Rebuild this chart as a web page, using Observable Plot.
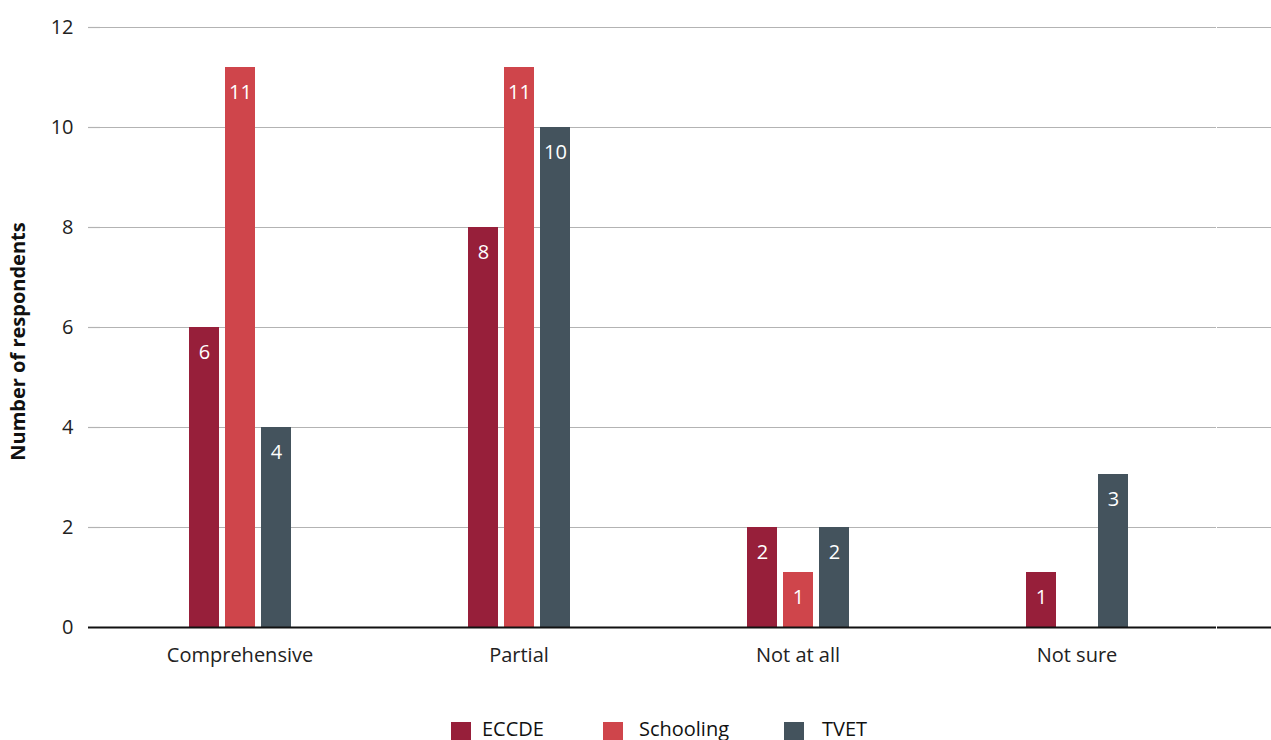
<!DOCTYPE html>
<html>
<head>
<meta charset="utf-8">
<script src="https://cdn.jsdelivr.net/npm/d3@7"></script>
<script src="https://cdn.jsdelivr.net/npm/@observablehq/plot@0.6"></script>
<style>
  html, body { margin: 0; padding: 0; background: #fff; }
  body { width: 1271px; height: 740px; overflow: hidden; font-family: "Open Sans", sans-serif; }
  #legend { display: flex; justify-content: flex-start; align-items: flex-start; margin-top: 32px; padding-left: 451px; font-size: 20px; color: #111; line-height: 20px; }
  .item { display: flex; align-items: flex-start; }
  .sw { width: 20px; height: 20px; display: inline-block; }
  .lt { margin-top: -3px; }
</style>
</head>
<body>
<div id="chart"></div>
<div id="legend"></div>
<script>
const categories = ["Comprehensive", "Partial", "Not at all", "Not sure"];
const series = ["ECCDE", "Schooling", "TVET"];
const eccde = [6, 8, 2, 1.1];
const schooling = [11.2, 11.2, 1.1, 0];
const tvet = [4, 10, 2, 3.06];
const colors = ["#971f3a", "#cf454b", "#44535d"];
const yTicks = [0, 2, 4, 6, 8, 10, 12];
const gridTicks = yTicks.filter(d => d > 0);

const seriesValues = [eccde, schooling, tvet];
const data = [];
categories.forEach((c, i) => {
  series.forEach((s, j) => {
    data.push({category: c, series: s, value: seriesValues[j][i]});
  });
});

const gridColor = "#b3b3b3";
const blank = () => "";

const plot = Plot.plot({
  width: 1271,
  height: 690,
  marginLeft: 87,
  marginRight: 0,
  marginTop: 27,
  marginBottom: 63,
  style: {fontFamily: "Open Sans", fontSize: "20px", color: "#222", overflow: "visible"},
  fx: {domain: categories, padding: 0, insetLeft: 12, insetRight: 54, label: null},
  x: {domain: series, paddingInner: 0.17, paddingOuter: 2.46, axis: null},
  y: {domain: [0, 12], ticks: yTicks, axis: null},
  color: {domain: series, range: colors},
  marks: [
    Plot.ruleY(gridTicks, {stroke: gridColor, strokeWidth: 1.2}),
    Plot.axisY({anchor: "left", facetAnchor: "left", ticks: gridTicks, tickSize: 12, tickFormat: blank, stroke: gridColor, strokeWidth: 1.2, label: null}),
    Plot.axisY({anchor: "right", facetAnchor: "right", ticks: gridTicks, tickSize: 54, tickFormat: blank, stroke: gridColor, strokeWidth: 1.2, label: null}),
    Plot.axisY({anchor: "left", facetAnchor: "left", ticks: yTicks, tickSize: 0, tickPadding: 27, fontSize: 20, fill: "#222", label: null}),
    Plot.barY(data, {fx: "category", x: "series", y: "value", fill: "series"}),
    Plot.text(data.filter(d => d.value > 0), {fx: "category", x: "series", y: "value", text: d => String(Math.round(d.value)), dy: 25, fill: "white", fontSize: 20}),
    Plot.ruleY([0], {stroke: "#111", strokeWidth: 2}),
    Plot.axisY({anchor: "left", facetAnchor: "left", ticks: [0], tickSize: 12, tickFormat: blank, stroke: "#111", strokeWidth: 2, label: null}),
    Plot.axisY({anchor: "right", facetAnchor: "right", ticks: [0], tickSize: 54, tickFormat: blank, stroke: "#111", strokeWidth: 2, label: null}),
    Plot.axisFx({anchor: "bottom", tickSize: 0, tickPadding: 20, fontSize: 20, fill: "#222", label: null}),
    Plot.text(["Number of respondents"], {facet: "super", frameAnchor: "left", textAnchor: "middle", dx: -82, dy: 14, rotate: -90, fontWeight: "bold", fontSize: 20, fill: "#111"})
  ]
});
document.getElementById("chart").appendChild(plot);

const legend = document.getElementById("legend");
const itemGaps = [0, 59, 55];
const swatchGaps = [11, 16, 18];
series.forEach((s, j) => {
  const item = document.createElement("div");
  item.className = "item";
  item.style.marginLeft = itemGaps[j] + "px";
  const sw = document.createElement("span");
  sw.className = "sw";
  sw.style.background = colors[j];
  const t = document.createElement("span");
  t.className = "lt";
  t.textContent = s;
  t.style.marginLeft = swatchGaps[j] + "px";
  item.appendChild(sw);
  item.appendChild(t);
  legend.appendChild(item);
});
</script>
</body>
</html>
